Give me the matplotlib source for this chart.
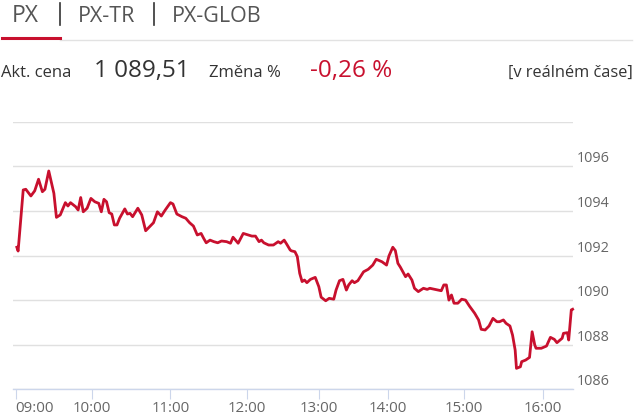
import numpy as np
import matplotlib
matplotlib.use("Agg")
import matplotlib.pyplot as plt
from matplotlib.ticker import FixedLocator

plt.rcParams['font.family'] = ['Open Sans', 'DejaVu Sans']

# minuty od 09:00 a hodnota indexu PX
minutes = [1, 2, 6, 8, 12, 15, 18, 21, 23, 26, 30, 32, 35, 39, 41, 43, 47, 49, 51, 53,
           56, 59, 62, 65, 67, 69, 71, 73, 75, 77, 79, 81, 85, 87, 89, 91, 95, 98, 101, 104,
           107, 110, 113, 116, 120, 122, 125, 129, 132, 135, 138, 141, 144, 146, 148, 151, 154, 157, 160, 164,
           167, 169, 173, 177, 181, 184, 187, 190, 192, 194, 198, 202, 206, 208, 211, 213, 216, 217, 220, 222,
           224, 226, 228, 230, 233, 237, 240, 242, 246, 249, 253, 255, 258, 261, 264, 266, 269, 271, 274, 279,
           283, 287, 290, 295, 299, 301, 304, 306, 308, 310, 314, 316, 319, 321, 324, 328, 331, 333, 337, 342,
           344, 346, 348, 350, 352, 355, 358, 361, 364, 368, 371, 373, 376, 379, 382, 385, 387, 390, 392, 395,
           397, 399, 400, 403, 404, 407, 410, 412, 414, 415, 419, 423, 426, 429, 431, 435, 436, 439, 440, 442, 443]
values = [1092.37, 1092.20, 1094.94, 1094.97, 1094.67, 1094.90, 1095.42, 1094.86, 1094.97, 1095.79,
          1094.79, 1093.71, 1093.82, 1094.37, 1094.22, 1094.37, 1094.19, 1094.04, 1094.60, 1093.96,
          1094.12, 1094.56, 1094.41, 1094.34, 1093.96, 1094.52, 1094.41, 1093.92, 1093.86, 1093.37,
          1093.37, 1093.67, 1094.09, 1093.86, 1093.89, 1093.74, 1094.12, 1093.82, 1093.11, 1093.29,
          1093.47, 1093.96, 1093.77, 1094.04, 1094.37, 1094.31, 1093.86, 1093.74, 1093.67, 1093.47,
          1093.32, 1092.92, 1092.99, 1092.77, 1092.57, 1092.69, 1092.62, 1092.57, 1092.65, 1092.62,
          1092.55, 1092.82, 1092.55, 1092.99, 1092.92, 1092.87, 1092.87, 1092.62, 1092.69, 1092.57,
          1092.47, 1092.47, 1092.62, 1092.55, 1092.69, 1092.52, 1092.25, 1092.21, 1092.17, 1091.95,
          1091.20, 1090.83, 1090.90, 1090.78, 1090.93, 1091.02, 1090.60, 1090.13, 1089.97, 1090.08,
          1090.04, 1090.45, 1090.87, 1090.93, 1090.45, 1090.68, 1090.87, 1090.78, 1090.87, 1091.27,
          1091.38, 1091.57, 1091.83, 1091.72, 1091.57, 1091.98, 1092.37, 1092.22, 1091.65, 1091.47,
          1091.05, 1091.17, 1090.90, 1090.53, 1090.38, 1090.53, 1090.48, 1090.53, 1090.48, 1090.42,
          1090.68, 1090.68, 1090.00, 1090.23, 1089.86, 1089.86, 1090.04, 1090.00, 1089.73, 1089.41,
          1089.11, 1088.69, 1088.66, 1088.84, 1089.18, 1089.03, 1089.03, 1089.11, 1088.96, 1088.84,
          1088.43, 1087.76, 1086.94, 1087.01, 1087.24, 1087.31, 1087.43, 1088.58, 1087.99, 1087.84,
          1087.84, 1087.94, 1088.33, 1088.24, 1088.09, 1088.29, 1088.51, 1088.54, 1088.21, 1089.56, 1089.59]

tick_minutes = [0, 60, 120, 180, 240, 300, 360, 420]
tick_labels = ['09:00', '10:00', '11:00', '12:00', '13:00', '14:00', '15:00', '16:00']
y_ticks = [1086, 1088, 1090, 1092, 1094, 1096, 1098]

# ordinalni osa (Highcharts) - useky mezi hodinami nejsou stejne siroke
ord_min = [-60] + tick_minutes + [480]
ord_pos = [-61.4, 15.3, 92, 170.3, 247, 318.8, 387.7, 464.3, 542.7, 621.1]

def fwd(m):
    return np.interp(m, ord_min, ord_pos)

def inv(p):
    return np.interp(p, ord_pos, ord_min)

W, H = 640, 417
fig = plt.figure(figsize=(W / 100, H / 100), dpi=100)
fig.patch.set_facecolor('white')

def fx(x):
    return x / W

def fy(y):
    return 1 - y / H

red = '#c8102e'
dark = '#333333'

# zalozky
fig.text(fx(12), fy(16), 'PX', fontsize=16.5, color='#555555', va='center', ha='left')
fig.text(fx(78), fy(17), 'PX-TR', fontsize=15.5, color='#555555', va='center', ha='left')
fig.text(fx(172), fy(17), 'PX-GLOB', fontsize=15.5, color='#555555', va='center', ha='left')
fig.add_artist(plt.Line2D([fx(59.5), fx(59.5)], [fy(3), fy(25)], color='#333333', lw=1.2))
fig.add_artist(plt.Line2D([fx(153.5), fx(153.5)], [fy(3), fy(25)], color='#333333', lw=1.2))
fig.add_artist(plt.Line2D([fx(60), fx(632)], [fy(40), fy(40)], color='#e2e2e2', lw=1))
fig.add_artist(plt.Line2D([fx(2), fx(60)], [fy(38), fy(38)], color=red, lw=2.2))

# radek s cenou
fig.text(fx(1), fy(73), 'Akt. cena', fontsize=12, color=dark, va='center', ha='left')
fig.text(fx(94), fy(71), '1 089,51', fontsize=17.5, color=dark, va='center', ha='left')
fig.text(fx(209), fy(73), 'Změna %', fontsize=12, color=dark, va='center', ha='left')
fig.text(fx(310), fy(71), '-0,26 %', fontsize=17.5, color=red, va='center', ha='left')
fig.text(fx(633), fy(73), '[v reálném čase]', fontsize=11.8, color=dark, va='center', ha='right')

ax = fig.add_axes([fx(13), fy(389.3), fx(573) - fx(13), fy(121.7) - fy(389.3)])
ax.set_xscale('function', functions=(fwd, inv))
ax.plot(minutes, values, color=red, lw=2.0, solid_joinstyle='round', clip_on=False, zorder=3)

ax.set_xlim(-2, 443.3)
ax.set_ylim(1086, 1098)

ax.xaxis.set_major_locator(FixedLocator(tick_minutes))
ax.set_xticklabels(tick_labels)
ax.xaxis.set_minor_locator(FixedLocator([]))
ax.tick_params(axis='x', length=7.2, width=0.8, color='#ccd6eb', pad=1.5,
               labelsize=10.8, labelcolor='#666666')
ax.get_xticklabels()[0].set_horizontalalignment('left')

ax.yaxis.tick_right()
ax.set_yticks(y_ticks)
ax.set_yticklabels([str(v) if v < 1098 else '' for v in y_ticks])
ax.tick_params(axis='y', length=0, pad=3, labelsize=10.4, labelcolor='#666666')
for lab in ax.get_yticklabels():
    lab.set_verticalalignment('bottom')

ax.grid(axis='y', color='#e0e0e0', lw=1)
ax.set_axisbelow(True)
for s in ['top', 'left', 'right']:
    ax.spines[s].set_visible(False)
ax.spines['bottom'].set_color('#ccd6eb')
ax.spines['bottom'].set_linewidth(1)

fig.savefig('out.png', dpi=100, facecolor='white')
